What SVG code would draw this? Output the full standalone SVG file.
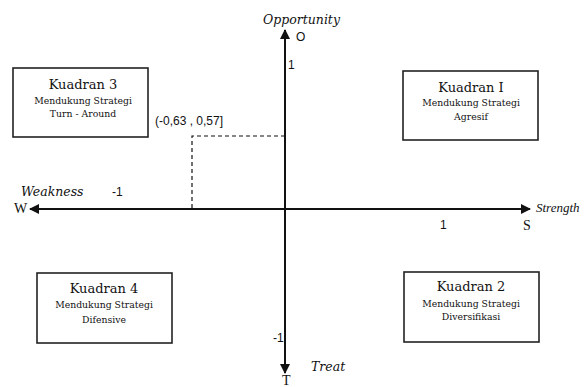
<svg xmlns="http://www.w3.org/2000/svg" width="588" height="387" viewBox="0 0 588 387">
<style>
.box{fill:#fff;stroke:#222;stroke-width:1.6}
.t1{font-family:"DejaVu Serif","Liberation Serif",serif;font-size:13px;fill:#111;text-anchor:middle}
.t2{font-family:"DejaVu Serif","Liberation Serif",serif;font-size:9.3px;fill:#111;text-anchor:middle}
.it{font-family:"DejaVu Serif","Liberation Serif",serif;font-style:italic;font-size:12.5px;fill:#111}
.lb{font-family:"Liberation Sans",Arial,sans-serif;font-size:12px;fill:#111}
.ls{font-family:"Liberation Serif",serif;font-size:14px;fill:#111}
.axis{stroke:#111;stroke-width:2;fill:none}
</style>
<defs>
<marker id="ah" viewBox="0 0 10 10" refX="9" refY="5" markerWidth="5" markerHeight="5" orient="auto" markerUnits="strokeWidth">
<path d="M0,0 L10,5 L0,10 z" fill="#111"/>
</marker>
</defs>
<rect width="588" height="387" fill="#fff"/>
<g id="connectors">
<line class="axis" x1="285" y1="209" x2="530" y2="209" marker-end="url(#ah)"/>
<line class="axis" x1="285" y1="209" x2="30" y2="209" marker-end="url(#ah)"/>
<line class="axis" x1="285" y1="209" x2="285" y2="30" marker-end="url(#ah)"/>
<line class="axis" x1="285" y1="209" x2="285" y2="373" marker-end="url(#ah)"/>
<path d="M285,136 H192 V208" fill="none" stroke="#111" stroke-width="1.2" stroke-dasharray="4,3"/>
</g>
<g id="labels">
<text class="it" x="263" y="24">Opportunity</text>
<text class="lb" x="296" y="41" font-size="13">O</text>
<text class="lb" x="288" y="69">1</text>
<text class="it" x="21" y="196">Weakness</text>
<text class="lb" x="112" y="196">-1</text>
<text class="ls" x="14" y="213">W</text>
<text x="536" y="212" font-family="'Liberation Serif',serif" font-style="italic" font-size="13" fill="#111">Strength</text>
<text class="lb" x="440" y="229">1</text>
<text class="ls" x="523" y="230">S</text>
<text class="lb" x="273" y="342">-1</text>
<text class="it" x="311" y="371">Treat</text>
<text class="ls" x="282" y="385" font-size="13">T</text>
<text class="lb" x="155" y="125" font-size="10.5">(-0,63 , 0,57]</text>
</g>
<g id="q3">
<rect class="box" x="13" y="68" width="135" height="69"/>
<text class="t1" x="83" y="89">Kuadran 3</text>
<text class="t2" x="83" y="104">Mendukung Strategi</text>
<text class="t2" x="83" y="117">Turn - Around</text>
</g>
<g id="q1">
<rect class="box" x="403" y="71" width="135" height="69"/>
<text class="t1" x="471" y="92">Kuadran I</text>
<text class="t2" x="471" y="106">Mendukung Strategi</text>
<text class="t2" x="471" y="120">Agresif</text>
</g>
<g id="q4">
<rect class="box" x="37" y="273" width="135" height="70"/>
<text class="t1" x="104" y="293">Kuadran 4</text>
<text class="t2" x="104" y="308">Mendukung Strategi</text>
<text class="t2" x="104" y="323">Difensive</text>
</g>
<g id="q2">
<rect class="box" x="404" y="272" width="135" height="70"/>
<text class="t1" x="471" y="291">Kuadran 2</text>
<text class="t2" x="471" y="307">Mendukung Strategi</text>
<text class="t2" x="471" y="320">Diversifikasi</text>
</g>
</svg>
